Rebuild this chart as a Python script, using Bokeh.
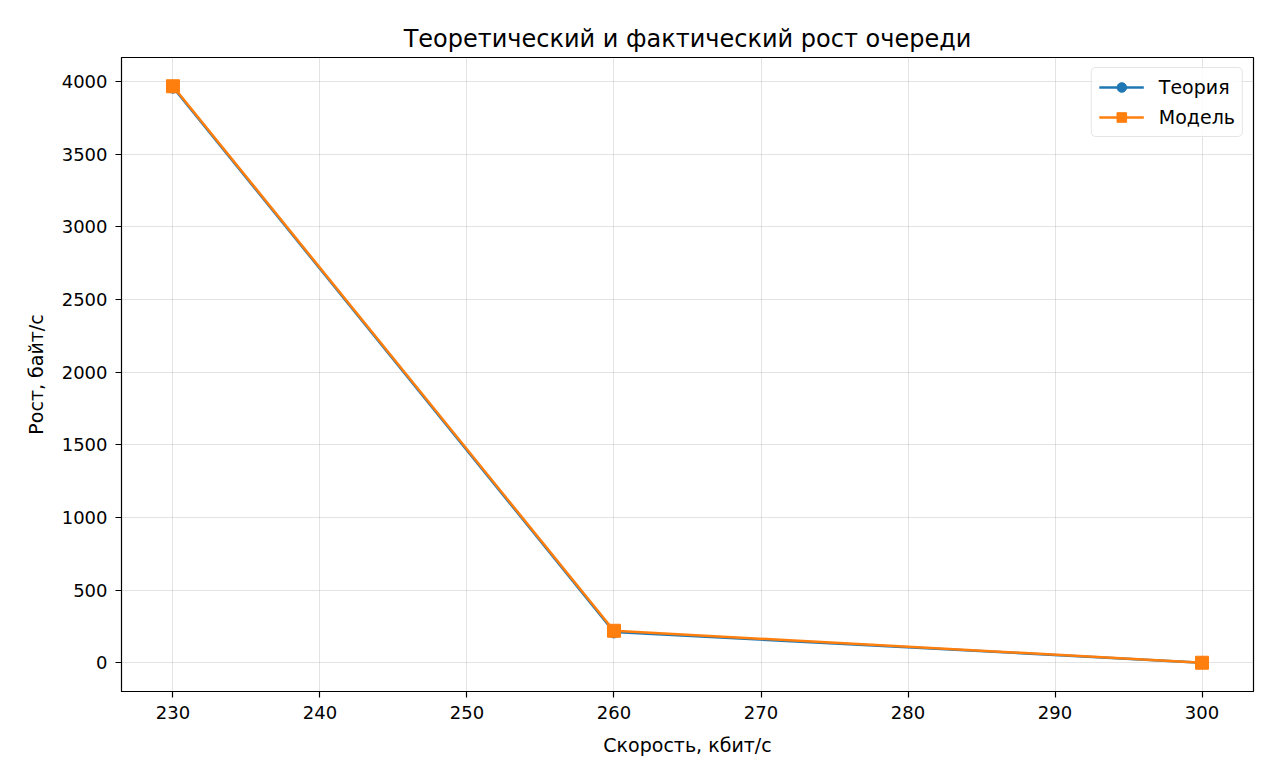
from bokeh.plotting import figure
from bokeh.models import FixedTicker, Range1d, Legend, LegendItem
from bokeh.embed import file_html
from bokeh.resources import INLINE

speed = [230, 260, 300]
theory = [3962, 212, 0]
model = [3968, 220, 0]
x_ticks = [230, 240, 250, 260, 270, 280, 290, 300]
y_ticks = [0, 500, 1000, 1500, 2000, 2500, 3000, 3500, 4000]

FONT = "DejaVu Sans"

p = figure(width=1259, height=764, output_backend="svg", toolbar_location=None,
           x_range=Range1d(226.5, 303.5), y_range=Range1d(-198, 4166),
           min_border_left=121, min_border_right=6, min_border_top=57, min_border_bottom=73,
           title="Теоретический и фактический рост очереди")

p.title.text_font = FONT
p.title.text_font_size = "24px"
p.title.text_font_style = "normal"
p.title.text_color = "black"
p.title.align = "center"
p.title.offset = 0

p.xaxis.ticker = FixedTicker(ticks=x_ticks)
p.yaxis.ticker = FixedTicker(ticks=y_ticks)
p.xaxis.axis_label = "Скорость, кбит/с"
p.yaxis.axis_label = "Рост, байт/с"
for ax in (p.xaxis, p.yaxis):
    ax.axis_label_text_font = FONT
    ax.axis_label_text_font_size = "19px"
    ax.axis_label_text_font_style = "normal"
    ax.axis_label_text_color = "black"
    ax.major_label_text_font = FONT
    ax.major_label_text_font_size = "18px"
    ax.major_label_text_color = "black"
    ax.minor_tick_line_color = None
    ax.major_tick_out = 6
    ax.major_tick_in = 0
    ax.axis_line_color = "black"
    ax.major_tick_line_color = "black"
    ax.major_tick_line_width = 1.2
    ax.major_label_standoff = 8
p.yaxis.major_label_orientation = "horizontal"
p.yaxis.axis_label_standoff = 12
p.xaxis.axis_label_standoff = 12

p.outline_line_color = "black"
p.outline_line_width = 1.2
p.grid.grid_line_color = "#b0b0b0"
p.grid.grid_line_alpha = 0.35

r1 = p.line(speed, theory, line_width=2.5, color="#1f77b4")
r1m = p.scatter(speed, theory, marker="circle", size=12, color="#1f77b4")
r2 = p.line(speed, model, line_width=2.5, color="#ff7f0e")
r2m = p.scatter(speed, model, marker="square", size=13, color="#ff7f0e")

legend = Legend(items=[LegendItem(label="Теория", renderers=[r1, r1m]),
                       LegendItem(label="Модель", renderers=[r2, r2m])],
                location="top_right")
legend.label_text_font = FONT
legend.label_text_font_size = "19px"
legend.label_text_color = "black"
legend.border_line_color = "#cccccc"
legend.border_line_width = 1.5
legend.border_radius = 5
legend.background_fill_alpha = 0.8
legend.margin = 10
legend.padding = 7
legend.spacing = 6
legend.glyph_width = 45
legend.glyph_height = 24
legend.label_standoff = 15
p.add_layout(legend)

open("out.html", "w").write(file_html(p, INLINE))
